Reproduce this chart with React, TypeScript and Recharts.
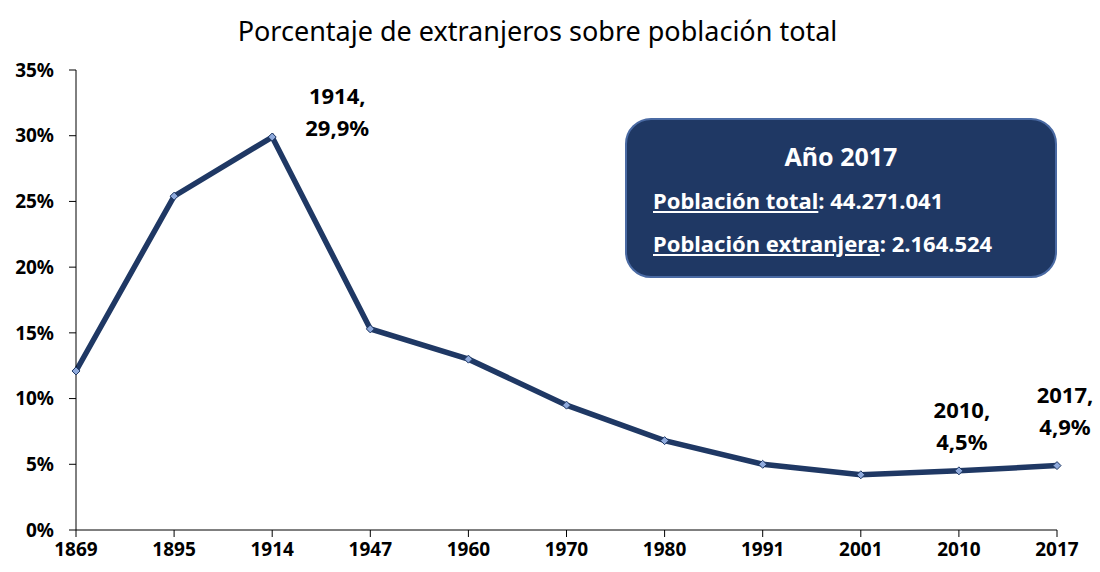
import React from "react";
import { LineChart, Line, XAxis, YAxis, LabelList } from "recharts";

// años del censo y % de extranjeros
const years = ["1869", "1895", "1914", "1947", "1960", "1970", "1980", "1991", "2001", "2010", "2017"];
const pctForeign = [12.1, 25.4, 29.9, 15.3, 13.0, 9.5, 6.8, 5.0, 4.2, 4.5, 4.9];
const yTicks = [0, 5, 10, 15, 20, 25, 30, 35];
const labelledYears = ["1914", "2010", "2017"];

const data = years.map((y, i) => ({ year: y, pct: pctForeign[i] }));

// desplazamiento de cada etiqueta respecto a su punto (dx, dy de la 1ª línea)
const LABEL_OFFSETS: Record<string, [number, number]> = {
  "1914": [65, -42],
  "2010": [3, -62],
  "2017": [8, -72],
};

const NAVY = "#1f3864";
const FONT = "'Noto Sans', 'Open Sans', sans-serif";

const fmtPct = (v: number) => v.toFixed(1).replace(".", ",") + "%";

function Diamond(props: any) {
  const { cx, cy, index } = props;
  if (cx == null || cy == null) return <g key={index} />;
  const r = 4;
  return (
    <polygon
      key={index}
      points={`${cx},${cy - r} ${cx + r},${cy} ${cx},${cy + r} ${cx - r},${cy}`}
      fill="#8faadc"
      stroke={NAVY}
      strokeWidth={1}
    />
  );
}

function PointLabel(props: any) {
  const { x, y, index } = props;
  const yr = years[index];
  if (!labelledYears.includes(yr)) return null;
  const [dx, dy] = LABEL_OFFSETS[yr];
  return (
    <g>
      <text x={x + dx} y={y + dy} textAnchor="middle" dominantBaseline="central" fontFamily={FONT} fontWeight={700} fontSize={22} fill="#000">
        {yr},
      </text>
      <text x={x + dx} y={y + dy + 32} textAnchor="middle" dominantBaseline="central" fontFamily={FONT} fontWeight={700} fontSize={22} fill="#000">
        {fmtPct(pctForeign[index])}
      </text>
    </g>
  );
}

export default function App() {
  const tickStyle = { fontFamily: FONT, fontWeight: 700, fontSize: 19, fill: "#000" };
  return (
    <div style={{ position: "absolute", left: 0, top: 0, width: 1100, height: 572, background: "#fff", fontFamily: FONT }}>
      <div style={{ position: "absolute", left: 0, top: 12, width: 1075, textAlign: "center", fontSize: 27, lineHeight: "38px", color: "#000" }}>
        Porcentaje de extranjeros sobre población total
      </div>

      <LineChart width={1100} height={572} data={data} margin={{ top: 70, right: 43, bottom: 2, left: 6 }}>
        <XAxis
          dataKey="year"
          stroke="#000"
          tickSize={7}
          tickMargin={6}
          tick={tickStyle}
          interval={0}
          height={40}
        />
        <YAxis
          domain={[0, 35]}
          ticks={yTicks}
          tickFormatter={(v) => `${v}%`}
          stroke="#000"
          tickSize={7}
          tickMargin={15}
          tick={tickStyle}
          width={70}
          interval={0}
        />
        <Line
          type="linear"
          dataKey="pct"
          stroke={NAVY}
          strokeWidth={5.5}
          dot={<Diamond />}
          activeDot={false}
          isAnimationActive={false}
        >
          <LabelList dataKey="pct" content={<PointLabel />} />
        </Line>
      </LineChart>

      {/* recuadro año 2017 */}
      <div
        style={{
          position: "absolute",
          left: 625,
          top: 118,
          width: 432,
          height: 160,
          boxSizing: "border-box",
          background: NAVY,
          border: "2px solid #4a6aa3",
          borderRadius: 26,
          color: "#fff",
          fontWeight: 700,
        }}
      >
        <div style={{ textAlign: "center", fontSize: 25, marginTop: 21, lineHeight: "30px" }}>Año 2017</div>
        <div style={{ fontSize: 22, marginLeft: 26, marginTop: 15, lineHeight: "28px" }}>
          <span style={{ textDecoration: "underline" }}>Población total</span>: 44.271.041
        </div>
        <div style={{ fontSize: 22, marginLeft: 26, marginTop: 15, lineHeight: "28px" }}>
          <span style={{ textDecoration: "underline" }}>Población extranjera</span>: 2.164.524
        </div>
      </div>
    </div>
  );
}
